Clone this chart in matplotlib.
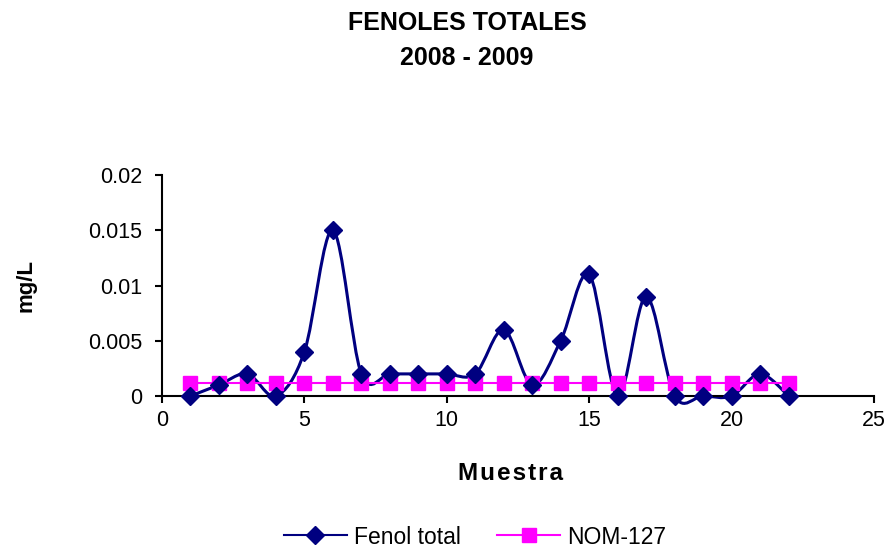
import matplotlib
matplotlib.use("Agg")
import matplotlib.pyplot as plt
import numpy as np
from matplotlib.path import Path
from matplotlib.patches import PathPatch
from matplotlib.lines import Line2D

plt.rcParams['font.family'] = ['Liberation Sans', 'DejaVu Sans']

muestra = [1, 2, 3, 4, 5, 6, 7, 8, 9, 10, 11, 12, 13, 14, 15, 16, 17, 18, 19, 20, 21, 22]
fenol_total = [0, 0.001, 0.002, 0, 0.004, 0.015, 0.002, 0.002, 0.002, 0.002, 0.002,
               0.006, 0.001, 0.005, 0.011, 0, 0.009, 0, 0, 0, 0.002, 0]
nom_127 = [0.0012] * 22

title_lines = ["FENOLES TOTALES", "2008 - 2009"]
xlabel = "Muestra"
ylabel = "mg/L"
yticks = [0, 0.005, 0.01, 0.015, 0.02]
ytick_labels = ["0", "0.005", "0.01", "0.015", "0.02"]
xticks = [0, 5, 10, 15, 20, 25]
legend_labels = ["Fenol total", "NOM-127"]

navy = "#000080"
magenta = "#FF00FF"

W, H = 893, 552
fig = plt.figure(figsize=(W / 100, H / 100), dpi=100)
ax = fig.add_axes([162/W, 1 - 396/H, (874-162)/W, (396-175)/H])


def smooth_path(x, y, t=1/6):
    x = np.asarray(x, float)
    y = np.asarray(y, float)
    n = len(x)
    verts = [(x[0], y[0])]
    codes = [Path.MOVETO]
    for i in range(n - 1):
        x0, y0 = (x[i-1], y[i-1]) if i > 0 else (x[i], y[i])
        x3, y3 = (x[i+2], y[i+2]) if i + 2 < n else (x[i+1], y[i+1])
        c1 = (x[i] + (x[i+1] - x0) * t, y[i] + (y[i+1] - y0) * t)
        c2 = (x[i+1] - (x3 - x[i]) * t, y[i+1] - (y3 - y[i]) * t)
        verts += [c1, c2, (x[i+1], y[i+1])]
        codes += [Path.CURVE4] * 3
    return Path(verts, codes)


ax.add_patch(PathPatch(smooth_path(muestra, fenol_total), facecolor='none',
                       edgecolor=navy, lw=2.2, zorder=2, clip_on=False))
ax.plot(muestra, fenol_total, linestyle='none', marker='D', color=navy,
        markersize=9.5, zorder=4, clip_on=False)
ax.plot(muestra, nom_127, color=magenta, lw=1.5, marker='s', markersize=10.5,
        zorder=3, clip_on=False)

ax.set_xlim(0, 25)
ax.set_ylim(0, 0.02)
ax.set_xticks(xticks)
ax.set_yticks(yticks)
ax.set_yticklabels(ytick_labels)
ax.tick_params(labelsize=15.5, direction='out', length=5, width=1.5, colors='black')
ax.tick_params(axis='y', pad=9)
ax.tick_params(axis='x', pad=5)
for s in ['top', 'right']:
    ax.spines[s].set_visible(False)
for s in ['left', 'bottom']:
    ax.spines[s].set_linewidth(1.5)

spaced = "\u200a".join(xlabel)
fig.text(511/W, 1 - 473/H, spaced, ha='center', va='center', fontsize=17.5,
         fontweight='bold')
fig.text(26/W, 1 - 286/H, ylabel, ha='center', va='center', fontsize=16,
         fontweight='bold', rotation=90)
fig.text(467/W, 1 - 23/H, title_lines[0], ha='center', va='center', fontsize=18,
         fontweight='bold')
fig.text(467/W, 1 - 58/H, title_lines[1], ha='center', va='center', fontsize=18,
         fontweight='bold')

handles = [Line2D([], [], color=navy, lw=1.5, marker='D', markersize=9.5),
           Line2D([], [], color=magenta, lw=1.5, marker='s', markersize=10)]
fig.legend(handles, legend_labels, loc='center', bbox_to_anchor=(475/W, 1 - 537/H),
           ncol=2, frameon=False, fontsize=16.5, handlelength=2.75, columnspacing=1.6,
           handletextpad=0.3)

fig.savefig("out.png", dpi=100)
